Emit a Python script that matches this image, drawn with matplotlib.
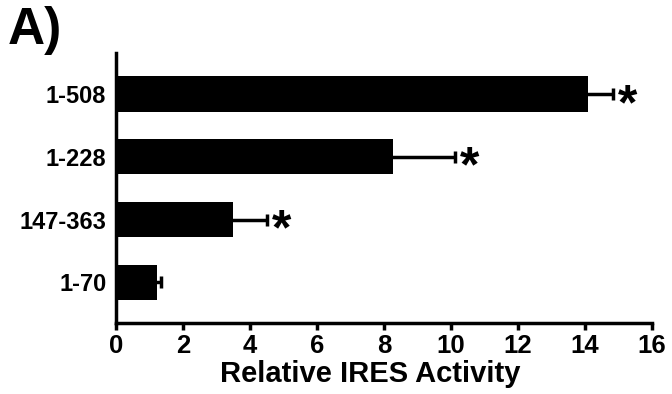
import matplotlib
matplotlib.use("Agg")
import matplotlib.pyplot as plt

plt.rcParams['font.family'] = ['Liberation Sans', 'DejaVu Sans']
plt.rcParams['font.weight'] = 'bold'

labels = ['1-70', '147-363', '1-228', '1-508']
values = [1.22, 3.48, 8.28, 14.08]
errors = [0.12, 1.02, 1.85, 0.76]
signif = [False, True, True, True]

fig = plt.figure(figsize=(6.72, 3.94), dpi=100)
ax = fig.add_axes([0.1726, 0.180, 0.7974, 0.685])

pos = range(len(labels))
ax.barh(pos, values, height=0.56, color='black', xerr=errors,
        error_kw=dict(ecolor='black', elinewidth=2.5, capsize=4, capthick=2.5))

for p, v, e, s in zip(pos, values, errors, signif):
    if s:
        ax.text(v + e + 0.15, p - 0.19, '*', fontsize=36, fontweight='bold',
                ha='left', va='center')

ax.set_xlim(0, 16)
ax.set_ylim(-0.65, 3.65)
ax.set_xticks(range(0, 17, 2))
ax.set_yticks(list(pos))
ax.set_yticklabels(labels)
ax.tick_params(axis='x', labelsize=18.5, width=2.5, length=5, pad=3)
ax.tick_params(axis='y', labelsize=17, length=0, pad=7)
for lab in ax.get_xticklabels() + ax.get_yticklabels():
    lab.set_fontweight('bold')
ax.set_xlabel('Relative IRES Activity', fontsize=21, fontweight='bold', labelpad=0)
ax.xaxis.set_label_coords(0.474, -0.135)

ax.spines['top'].set_visible(False)
ax.spines['right'].set_visible(False)
ax.spines['left'].set_linewidth(2.5)
ax.spines['bottom'].set_linewidth(2.5)

fig.text(0.012, 0.86, 'A)', fontsize=37, fontweight='bold', ha='left', va='bottom')

fig.savefig('out.png', dpi=100)
